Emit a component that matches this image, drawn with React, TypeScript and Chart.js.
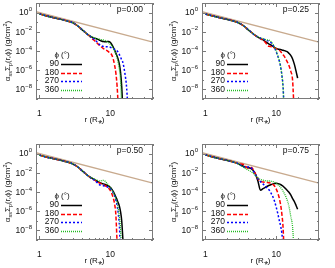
import React, { useEffect, useRef } from 'react';
import { Chart, registerables } from 'chart.js';
Chart.register(...registerables);

// ---------- data ----------
const R_GRID = [1, 1.2, 1.5, 2, 2.5, 3, 3.5, 4, 4.5, 5, 5.5, 6, 6.5, 7, 7.5, 8, 8.5, 9, 9.5, 10, 10.5, 11, 11.5, 12, 12.5, 13, 13.5, 14, 14.5, 15, 16, 17, 18, 19, 20];

const P000_90 = [0.75, 0.5, 0.33, 0.2, 0.13, 0.085, 0.04, 0.017, 0.008, 0.0042, 0.0028, 0.0022, 0.0018, 0.0014, 0.0011, 0.00095, 0.0009, 0.00095, 0.001, 0.0008, 0.0005, 0.00025, 0.00013, 6e-5, 2.8e-5, 1.2e-5, 3.5e-6, 5e-7, 2e-8, 1e-10, null, null, null, null, null];
const P000_180 = [0.75, 0.5, 0.33, 0.2, 0.13, 0.085, 0.04, 0.017, 0.008, 0.0042, 0.002, 0.0012, 0.0007, 0.0004, 0.00026, 0.00018, 0.00014, 0.00011, 8e-5, 6e-5, 4e-5, 1.5e-5, 3.5e-6, 5e-7, 2e-8, 1e-10, null, null, null, null, null, null, null, null, null];
const P000_270 = [0.75, 0.5, 0.33, 0.2, 0.13, 0.085, 0.04, 0.017, 0.008, 0.0042, 0.0025, 0.0016, 0.0009, 0.0005, 0.00035, 0.0003, 0.00028, 0.00028, 0.00027, 0.00025, 0.00021, 0.00018, 0.00015, 0.00013, 0.0001, 7e-5, 4e-5, 2.2e-5, 1.2e-5, 7e-6, 6e-7, 1.5e-8, 1e-11, null, null];
const P000_360 = [0.75, 0.5, 0.33, 0.2, 0.13, 0.085, 0.04, 0.017, 0.008, 0.0042, 0.003, 0.0023, 0.002, 0.0017, 0.0015, 0.0014, 0.0012, 0.0009, 0.0007, 0.0005, 0.00035, 0.0002, 0.0001, 4.5e-5, 1.8e-5, 5e-6, 1e-6, 6e-8, 1e-10, null, null, null, null, null, null];

const P025_90 = [0.72, 0.5, 0.33, 0.2, 0.13, 0.08, 0.04, 0.017, 0.0085, 0.0045, 0.0028, 0.002, 0.0015, 0.001, 0.0007, 0.0005, 0.0004, 0.0003, 0.00023, 0.00019, 0.00016, 0.00015, 0.00014, 0.00013, 0.00012, 0.00011, 1e-4, 9e-5, 7.5e-5, 6e-5, 3.5e-5, 1.5e-5, 4e-6, 8e-7, 1.5e-7];
const P025_180 = [0.72, 0.5, 0.33, 0.2, 0.13, 0.08, 0.04, 0.017, 0.0085, 0.0045, 0.0028, 0.002, 0.0013, 0.0008, 0.0004, 0.0003, 0.00028, 0.00025, 0.0002, 0.00017, 0.00015, 0.00012, 9e-5, 6e-5, 4e-5, 2.7e-5, 1.7e-5, 1e-5, 6e-6, 3.5e-6, 8e-7, 8e-8, 1e-11, null, null];
const P025_270 = [0.72, 0.5, 0.33, 0.2, 0.13, 0.08, 0.04, 0.017, 0.0085, 0.0045, 0.003, 0.0022, 0.0018, 0.0015, 0.0012, 0.001, 0.0007, 0.0004, 0.0002, 8e-5, 3e-5, 1e-5, 2.5e-6, 3e-7, 1.5e-8, 1e-11, null, null, null, null, null, null, null, null, null];
const P025_360 = [0.72, 0.5, 0.33, 0.2, 0.13, 0.08, 0.04, 0.017, 0.0085, 0.0045, 0.003, 0.0023, 0.0019, 0.0016, 0.0014, 0.0013, 0.0009, 0.0005, 0.00025, 1e-4, 3.5e-5, 1.1e-5, 2.5e-6, 3e-7, 1.2e-8, 1e-11, null, null, null, null, null, null, null, null, null];

const P050_90 = [0.7, 0.48, 0.32, 0.2, 0.13, 0.08, 0.04, 0.017, 0.008, 0.0042, 0.0028, 0.002, 0.0014, 0.001, 0.0008, 0.0007, 0.0006, 0.0005, 0.0004, 0.0003, 0.0002, 0.00012, 6e-5, 3e-5, 1.5e-5, 7e-6, 3e-6, 8e-7, 1e-7, 2e-9, 1e-12, null, null, null, null];
const P050_180 = [0.7, 0.48, 0.32, 0.2, 0.13, 0.08, 0.04, 0.017, 0.008, 0.0042, 0.0025, 0.0018, 0.0012, 0.0009, 0.0007, 0.00055, 0.00045, 0.00035, 0.00025, 0.00015, 7e-5, 2.5e-5, 6e-6, 4e-7, 4e-10, null, null, null, null, null, null, null, null, null, null];
const P050_270 = [0.7, 0.48, 0.32, 0.2, 0.13, 0.08, 0.04, 0.017, 0.008, 0.0042, 0.0025, 0.0017, 0.001, 0.0006, 0.0005, 0.00045, 0.0004, 0.00035, 0.0003, 0.00022, 0.00014, 8e-5, 4e-5, 1.5e-5, 4e-6, 5e-7, 2e-8, 1e-11, null, null, null, null, null, null, null];
const P050_360 = [0.7, 0.48, 0.32, 0.2, 0.13, 0.08, 0.04, 0.017, 0.008, 0.0042, 0.003, 0.0022, 0.0017, 0.0014, 0.0015, 0.0016, 0.0013, 0.0008, 0.0005, 0.00028, 0.00016, 9e-5, 4.5e-5, 2e-5, 7e-6, 1.5e-6, 2e-7, 1e-8, 1e-11, null, null, null, null, null, null];

const P075_90 = [0.75, 0.5, 0.33, 0.2, 0.13, 0.08, 0.045, 0.035, 0.025, 0.01, 0.0015, 0.00015, 0.00022, 0.0003, 0.0004, 0.0005, 0.0006, 0.0007, 0.00075, 0.0008, 0.00075, 0.0007, 0.0006, 0.0005, 0.0004, 0.0003, 0.00023, 0.00017, 0.00013, 1e-4, 5e-5, 2e-5, 1e-5, 4e-6, 1.6e-6];
const P075_180 = [0.75, 0.5, 0.33, 0.2, 0.13, 0.085, 0.07, 0.03, 0.035, 0.01, 0.0025, 0.0013, 0.0011, 0.001, 0.001, 0.0009, 0.0008, 0.0006, 0.0004, 0.0002, 8e-5, 2.5e-5, 5e-6, 5e-7, 1.5e-8, 1e-11, null, null, null, null, null, null, null, null, null];
const P075_270 = [0.75, 0.5, 0.33, 0.2, 0.13, 0.08, 0.04, 0.04, 0.03, 0.008, 0.0025, 0.0012, 0.0007, 0.0004, 0.00025, 0.00015, 7e-5, 3e-5, 1e-5, 2.5e-6, 6e-7, 1.2e-7, 3e-8, 5e-9, 2e-10, null, null, null, null, null, null, null, null, null, null];
const P075_360 = [0.75, 0.5, 0.33, 0.2, 0.13, 0.075, 0.035, 0.02, 0.012, 0.006, 0.003, 0.002, 0.0017, 0.0015, 0.0014, 0.0014, 0.0013, 0.0012, 0.001, 0.0008, 0.0006, 0.00045, 0.0003, 0.0002, 0.00012, 7e-5, 4e-5, 2e-5, 1e-5, 4e-6, 3e-7, 2e-8, 1e-11, null, null];

const REF_R = [0.9, 40];
const REF_V = [1.23, 8.5e-4];

const P_LABELS = ['p=0.00', 'p=0.25', 'p=0.50', 'p=0.75'];
const PHI_LABELS = ['90', '180', '270', '360'];
const LEGEND_TITLE = 'ϕ (°)';
const X_TICK_VALUES = [1, 10];
const X_TICK_LABELS = ['1', '10'];
const X_MINOR = [2, 3, 4, 5, 6, 7, 8, 9, 20, 30, 40];
const Y_TICK_VALUES = [1, 1e-2, 1e-4, 1e-6, 1e-8];
const Y_TICK_BASE = '10';
const Y_TICK_EXP = ['0', '−2', '−4', '−6', '−8'];
const Y_MINOR = [10, 1e-1, 1e-3, 1e-5, 1e-7, 1e-9];
const X_TITLE = 'r (R⁎)';
// y title pieces: [text, kind] with kind n = normal, b = subscript, p = superscript
const Y_TITLE_PARTS: [string, string][] = [['α', 'n'], ['ss', 'b'], ['Σ', 'n'], ['p', 'b'], ['(r,ϕ) (g/cm', 'n'], ['2', 'p'], [')', 'n']];

const PANEL_SERIES = [
  [P000_90, P000_180, P000_270, P000_360],
  [P025_90, P025_180, P025_270, P025_360],
  [P050_90, P050_180, P050_270, P050_360],
  [P075_90, P075_180, P075_270, P075_360],
];

// ---------- styles ----------
const FONT = "'Liberation Sans', Arial, sans-serif";
const TEXT = '#111111';
const FRAME = '#7a7a7a';
const STYLES = [
  { color: '#000000', dash: [] as number[], width: 1.5 },
  { color: '#ff0000', dash: [4, 2], width: 1.5 },
  { color: '#0000ff', dash: [2, 2], width: 1.5 },
  { color: '#22bb22', dash: [1, 1], width: 1.3 },
];
const REF_COLOR = '#c8aa8e';

const W = 166;
const H = 127;
const POS = [
  { left: 0, top: 0 },
  { left: 166, top: 0 },
  { left: 0, top: 141 },
  { left: 166, top: 141 },
];

function decorPlugin(pLabel: string) {
  return {
    id: 'decor',
    afterDatasetsDraw(chart: any) {
      const { ctx, chartArea: a, scales } = chart;
      const x = scales.x;
      const y = scales.y;
      ctx.save();
      // frame
      ctx.strokeStyle = FRAME;
      ctx.lineWidth = 1;
      ctx.setLineDash([]);
      ctx.strokeRect(Math.round(a.left) + 0.5, Math.round(a.top) + 0.5, Math.round(a.right - a.left) - 1, Math.round(a.bottom - a.top) - 1);
      // ticks (inward, mirrored)
      ctx.beginPath();
      const xt = (v: number, len: number) => {
        const px = Math.round(x.getPixelForValue(v)) + 0.5;
        ctx.moveTo(px, a.bottom); ctx.lineTo(px, a.bottom - len);
        ctx.moveTo(px, a.top); ctx.lineTo(px, a.top + len);
      };
      const yt = (v: number, len: number) => {
        const py = Math.round(y.getPixelForValue(v)) + 0.5;
        ctx.moveTo(a.left, py); ctx.lineTo(a.left + len, py);
        ctx.moveTo(a.right, py); ctx.lineTo(a.right - len, py);
      };
      X_TICK_VALUES.forEach((v) => xt(v, 4));
      X_MINOR.forEach((v) => xt(v, 2));
      Y_TICK_VALUES.forEach((v) => yt(v, 4));
      Y_MINOR.forEach((v) => yt(v, 2));
      ctx.stroke();

      ctx.fillStyle = TEXT;
      ctx.textBaseline = 'middle';

      // y tick labels with superscript exponents
      Y_TICK_VALUES.forEach((v, i) => {
        const py = y.getPixelForValue(v);
        ctx.font = `6px ${FONT}`;
        const ew = ctx.measureText(Y_TICK_EXP[i]).width;
        ctx.textAlign = 'left';
        const right = a.left - 4;
        ctx.fillText(Y_TICK_EXP[i], right - ew, py - 3);
        ctx.font = `8.5px ${FONT}`;
        ctx.textAlign = 'right';
        ctx.fillText(Y_TICK_BASE, right - ew - 0.3, py + 0.5);
      });

      // y title with sub/superscripts
      ctx.save();
      ctx.translate(8, (a.top + a.bottom) / 2);
      ctx.rotate(-Math.PI / 2);
      const fontFor = (k: string) => (k === 'n' ? `8px ${FONT}` : `5.5px ${FONT}`);
      let total = 0;
      Y_TITLE_PARTS.forEach(([t, k]) => { ctx.font = fontFor(k); total += ctx.measureText(t).width; });
      let cx = -total / 2;
      ctx.textAlign = 'left';
      Y_TITLE_PARTS.forEach(([t, k]) => {
        ctx.font = fontFor(k);
        const dy = k === 'b' ? 2.5 : k === 'p' ? -3 : 0;
        ctx.fillText(t, cx, dy);
        cx += ctx.measureText(t).width;
      });
      ctx.restore();

      // p label
      ctx.font = `8.5px ${FONT}`;
      ctx.textAlign = 'right';
      ctx.fillText(pLabel, a.right - 10, a.top + 7);

      // legend
      ctx.font = `8px ${FONT}`;
      ctx.textAlign = 'center';
      ctx.fillText(LEGEND_TITLE, a.left + 26, a.top + 52);
      const rows = [61, 69.5, 78, 86.5];
      PHI_LABELS.forEach((lab, i) => {
        const ry = a.top + rows[i];
        ctx.fillStyle = TEXT;
        ctx.font = `8.5px ${FONT}`;
        ctx.textAlign = 'right';
        ctx.fillText(lab, a.left + 23, ry);
        const st = STYLES[i];
        ctx.strokeStyle = st.color;
        ctx.lineWidth = st.width;
        ctx.setLineDash(st.dash);
        ctx.beginPath();
        ctx.moveTo(a.left + 25, Math.round(ry) + 0.5);
        ctx.lineTo(a.left + 46, Math.round(ry) + 0.5);
        ctx.stroke();
      });
      ctx.restore();
    },
  };
}

function Panel({ idx }: { idx: number }) {
  const ref = useRef<HTMLCanvasElement | null>(null);
  useEffect(() => {
    if (!ref.current) return;
    const series = PANEL_SERIES[idx];
    const datasets: any[] = series.map((vals, i) => ({
      label: PHI_LABELS[i],
      data: R_GRID.map((r, k) => ({ x: r, y: vals[k] })),
      borderColor: STYLES[i].color,
      borderDash: STYLES[i].dash,
      borderWidth: STYLES[i].width,
      pointRadius: 0,
      fill: false,
      cubicInterpolationMode: 'monotone',
      order: 4 - i,
    }));
    datasets.push({
      label: 'ref',
      data: REF_R.map((r, k) => ({ x: r, y: REF_V[k] })),
      borderColor: REF_COLOR,
      borderWidth: 1.3,
      pointRadius: 0,
      fill: false,
      order: 10,
    });
    const chart = new Chart(ref.current, {
      type: 'line',
      data: { datasets },
      plugins: [decorPlugin(P_LABELS[idx])],
      options: {
        animation: false,
        responsive: false,
        devicePixelRatio: 1,
        layout: { padding: { left: 0, right: 13, top: 3, bottom: 0 } },
        plugins: { legend: { display: false }, tooltip: { enabled: false } },
        scales: {
          x: {
            type: 'logarithmic',
            min: 0.9,
            max: 40,
            grid: { display: false },
            border: { display: false },
            afterBuildTicks: (s: any) => { s.ticks = X_TICK_VALUES.map((v) => ({ value: v })); },
            afterFit: (s: any) => { s.height = H - 99; s.paddingLeft = 0; s.paddingRight = 0; },
            ticks: {
              autoSkip: false, maxRotation: 0, padding: 2, color: TEXT,
              font: { family: FONT, size: 8.5 },
              callback: (_v: any, i: number) => X_TICK_LABELS[i],
            },
            title: { display: true, text: X_TITLE, color: TEXT, font: { family: FONT, size: 8 }, padding: { top: 0, bottom: 2 } },
          },
          y: {
            type: 'logarithmic',
            min: 1e-9,
            max: 10,
            grid: { display: false },
            border: { display: false },
            afterBuildTicks: (s: any) => { s.ticks = Y_TICK_VALUES.map((v) => ({ value: v })); },
            afterFit: (s: any) => { s.width = 36; s.paddingTop = 0; s.paddingBottom = 0; },
            ticks: { display: false },
            title: { display: false },
          },
        },
      } as any,
    });
    return () => chart.destroy();
  }, [idx]);
  return (
    <canvas
      ref={ref}
      width={W}
      height={H}
      style={{ position: 'absolute', left: POS[idx].left, top: POS[idx].top, width: W, height: H }}
    />
  );
}

export default function App() {
  return (
    <div style={{ position: 'absolute', left: 0, top: 0, width: 335, height: 268, background: '#ffffff' }}>
      {[0, 1, 2, 3].map((i) => <Panel key={i} idx={i} />)}
    </div>
  );
}
